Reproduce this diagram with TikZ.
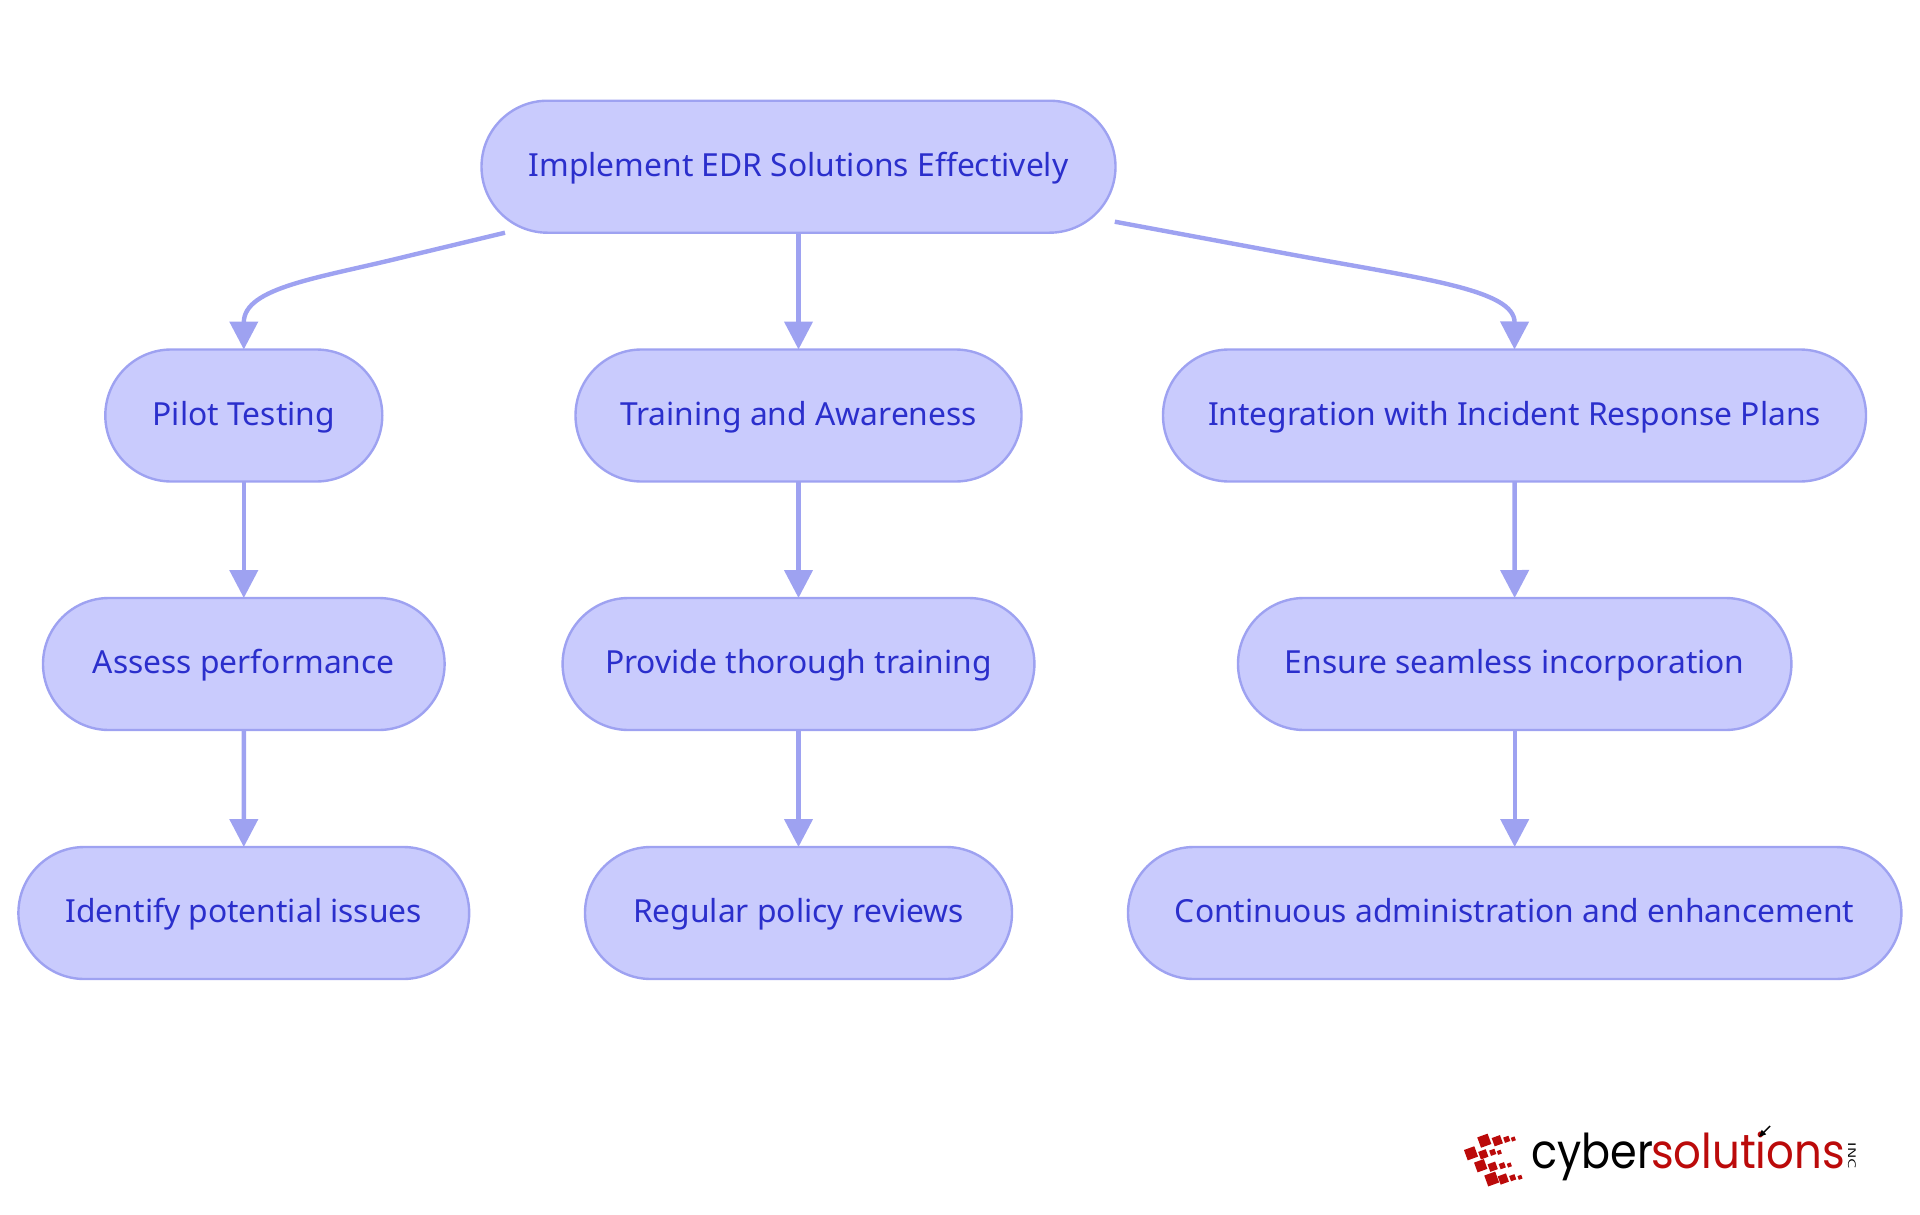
\documentclass[tikz,border=0pt]{standalone}
\usepackage{fontspec}
\usetikzlibrary{arrows.meta}
\setmainfont{Noto Sans}
\newfontfamily\logofont{Poppins}
\definecolor{pillfill}{HTML}{C9CBFD}
\definecolor{pillline}{HTML}{9EA2F1}
\definecolor{pilltext}{HTML}{2B2FCC}
\definecolor{logored}{HTML}{BB0A0A}
\newcommand{\pill}[7]{%
  \node[pillnode,minimum width=#4-#3,minimum height=#6-#5] (#1) at ({(#3+#4)/2},{(#5+#6)/2}) {#7};%
}
\newcommand{\lsq}[3]{\fill[logored,shift={(#1,#2)},rotate=20] (-#3,-#3) rectangle (#3,#3);}
\tikzset{
  pillnode/.style={draw=pillline,fill=pillfill,line width=2.4pt,rounded corners=66pt,inner sep=0pt,outer sep=0pt,text=pilltext,text height=25pt,text depth=6pt,font=\fontsize{31.8}{33}\selectfont},
  flow/.style={draw=pillline,line width=4.4pt,-{Triangle[length=28pt,width=28pt,fill=pillline]}}
}
\begin{document}
\begin{tikzpicture}[x=1pt,y=-1pt]
\useasboundingbox (0,0) rectangle (1920,1215);
\pill{top}{x}{481.5}{1115.5}{100.7}{232.7}{Implement EDR Solutions Effectively}
\pill{pilot}{x}{105.3}{382.3}{349.5}{481.5}{Pilot Testing}
\pill{train}{x}{575.5}{1021.5}{349.5}{481.5}{Training and Awareness}
\pill{integ}{x}{1163}{1866}{349.5}{481.5}{Integration with Incident Response Plans}
\pill{assess}{x}{43}{444.6}{598}{730}{Assess performance}
\pill{provide}{x}{562.6}{1034.4}{598}{730}{Provide thorough training}
\pill{ensure}{x}{1238}{1791.4}{598}{730}{Ensure seamless incorporation}
\pill{identify}{x}{18.4}{469.2}{847}{979}{Identify potential issues}
\pill{regular}{x}{585}{1012}{847}{979}{Regular policy reviews}
\pill{contin}{x}{1128}{1901.4}{847}{979}{Continuous administration and enhancement}
\coordinate (s1) at (505,232.7);
\coordinate (s1m) at (408,256);
\coordinate (s3) at (1114.8,221.7);
\coordinate (s3m) at (1294,255);
\draw[flow] (s1) -- (s1m) .. controls (320,278) and (243.8,287) .. (pilot.north);
\draw[flow] (top.south) -- (train.north);
\draw[flow] (s3) -- (s3m) .. controls (1425,279) and (1514.7,290) .. (integ.north);
\draw[flow] (pilot) -- (assess);
\draw[flow] (assess) -- (identify);
\draw[flow] (train) -- (provide);
\draw[flow] (provide) -- (regular);
\draw[flow] (integ) -- (ensure);
\draw[flow] (ensure) -- (contin);
% logo
\node[anchor=base west,inner sep=0pt,text=black] (cyb) at (1531,1168) {\scalebox{0.895}[1]{\logofont\fontsize{48}{50}\selectfont cyber}};
\node[anchor=base west,inner sep=0pt,text=logored] (sol) at (1651,1168) {\scalebox{0.905}[1]{\logofont\fontsize{48}{50}\selectfont solutions}};
\node[rotate=-90,inner sep=0pt,text=black,font=\fontsize{11}{12}\selectfont\sffamily] (inc) at (1852,1156) {\scalebox{1.5}[1]{INC}};
\coordinate (a1) at (1770,1126);
\coordinate (a2) at (1759,1137);
\draw[black,line width=1.4pt,-{Triangle[length=7pt,width=6pt]}] (a1) -- (a2);
\foreach \px/\py/\ps in {1484.3/1140.7/5.5,1497.3/1140.7/4.4,1506.7/1139.3/2.8,1513.3/1139/2,
1471/1153.3/5.5,1483.3/1154.3/4,1492.7/1152.3/2.8,1499.3/1152.3/2,
1480.7/1165.7/5.2,1492.7/1166.7/4,1502.3/1165.7/2.8,1509.3/1165/2,
1491.7/1179/5.8,1503.3/1179/4.4,1512.7/1177.7/2.8,1520/1177.3/2}
  {\lsq{\px}{\py}{\ps}}
\end{tikzpicture}
\end{document}
